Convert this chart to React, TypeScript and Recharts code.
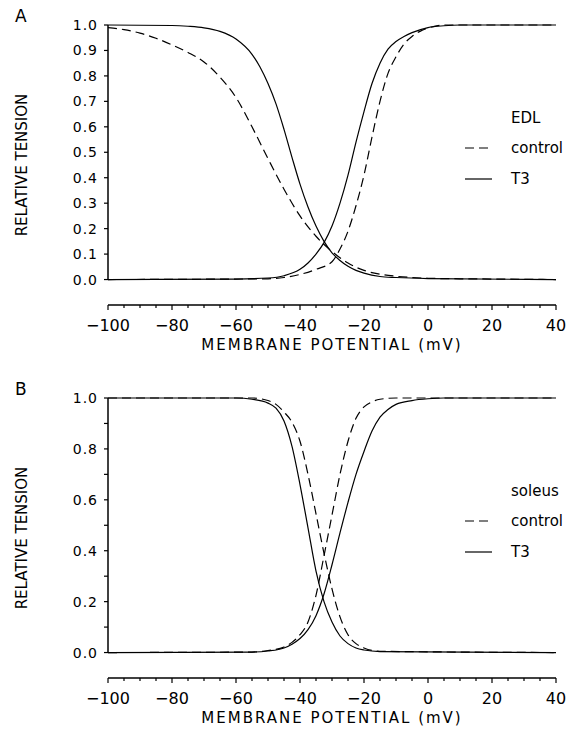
import React from "react"
import { LineChart, Line, XAxis, YAxis, ReferenceLine, Legend } from "recharts"

// membrane potential (mV) / relative tension

// A: EDL
const edlControlInactV = [-100, -95, -90, -85, -80, -75, -70, -65, -60, -55, -50, -45, -40, -35, -30, -25, -20, -15, -10, -5, 0, 10, 20, 40]
const edlControlInact = [0.99, 0.982, 0.968, 0.948, 0.922, 0.892, 0.855, 0.795, 0.715, 0.6, 0.475, 0.355, 0.25, 0.17, 0.11, 0.065, 0.036, 0.021, 0.013, 0.008, 0.005, 0.003, 0.002, 0]
const edlT3InactV = [-100, -80, -75, -70, -65, -60, -55, -52.5, -50, -47.5, -45, -42.5, -40, -37.5, -35, -32.5, -30, -27.5, -25, -22.5, -20, -15, -10, 0, 40]
const edlT3Inact = [1.0, 0.998, 0.995, 0.989, 0.975, 0.945, 0.885, 0.835, 0.77, 0.69, 0.59, 0.48, 0.375, 0.285, 0.21, 0.15, 0.105, 0.075, 0.052, 0.036, 0.025, 0.012, 0.008, 0.004, 0]
const edlT3ActV = [-100, -60, -50, -45, -40, -37.5, -35, -32.5, -30, -27.5, -25, -22.5, -20, -17.5, -15, -12.5, -10, -7.5, -5, 0, 5, 10, 40]
const edlT3Act = [0, 0.002, 0.006, 0.015, 0.04, 0.065, 0.1, 0.145, 0.21, 0.3, 0.41, 0.54, 0.66, 0.77, 0.85, 0.905, 0.935, 0.955, 0.97, 0.99, 0.997, 1.0, 1.0]
const edlControlActV = [-100, -50, -45, -40, -35, -30, -27.5, -25, -22.5, -20, -17.5, -15, -12.5, -10, -7.5, -5, -2.5, 0, 5, 40]
const edlControlAct = [0, 0.003, 0.008, 0.02, 0.04, 0.07, 0.12, 0.19, 0.29, 0.41, 0.56, 0.7, 0.81, 0.875, 0.925, 0.955, 0.975, 0.988, 1.0, 1.0]

// B: soleus
const solControlInactV = [-100, -55, -50, -47.5, -45, -42.5, -40, -37.5, -35, -32.5, -30, -27.5, -25, -22.5, -20, -15, 40]
const solControlInact = [1.0, 1.0, 0.99, 0.975, 0.945, 0.905, 0.83, 0.7, 0.545, 0.39, 0.25, 0.14, 0.07, 0.035, 0.018, 0.005, 0]
const solT3InactV = [-100, -60, -55, -50, -47.5, -45, -42.5, -40, -37.5, -35, -32.5, -30, -27.5, -25, -22.5, -20, -15, 40]
const solT3Inact = [1.0, 1.0, 0.995, 0.98, 0.96, 0.91, 0.81, 0.66, 0.49, 0.32, 0.2, 0.12, 0.065, 0.035, 0.018, 0.01, 0.004, 0]
const solControlActV = [-100, -55, -50, -45, -42.5, -40, -37.5, -35, -32.5, -30, -27.5, -25, -22.5, -20, -17.5, -15, -10, 40]
const solControlAct = [0, 0.002, 0.008, 0.022, 0.04, 0.07, 0.12, 0.225, 0.38, 0.54, 0.7, 0.83, 0.92, 0.965, 0.985, 0.995, 1.0, 1.0]
const solT3ActV = [-100, -55, -50, -45, -42.5, -40, -37.5, -35, -32.5, -30, -27.5, -25, -22.5, -20, -17.5, -15, -12.5, -10, -5, 0, 5, 40]
const solT3Act = [0, 0.002, 0.006, 0.018, 0.033, 0.055, 0.09, 0.145, 0.23, 0.345, 0.47, 0.59, 0.7, 0.79, 0.87, 0.925, 0.955, 0.975, 0.99, 0.997, 1.0, 1.0]

const xTicks = [-100, -95, -90, -85, -80, -75, -70, -65, -60, -55, -50, -45, -40, -35, -30, -25, -20, -15, -10, -5, 0, 5, 10, 15, 20, 25, 30, 35, 40]
const yTicks = [0, 0.1, 0.2, 0.3, 0.4, 0.5, 0.6, 0.7, 0.8, 0.9, 1.0]
const legendOrder = ["control", "T3"]

const FONT = "'DejaVu Sans', sans-serif"
const DASH = "9 5"

const pts = (v: number[], r: number[]) => v.map((x, i) => ({ v: x, r: r[i] }))

const XTick = (props: any) => {
  const { x, y, payload } = props
  const major = payload.value % 20 === 0
  return (
    <g>
      <line x1={x} x2={x} y1={y} y2={y + (major ? 5 : 3)} stroke="#000" strokeWidth={1.2} />
      {major && (
        <text x={x} y={y + 20} textAnchor="middle" dominantBaseline="central" fontSize={16} fontFamily={FONT} fill="#000">
          {String(payload.value).replace("-", "\u2212")}
        </text>
      )}
    </g>
  )
}

const YTick = (props: any) => {
  const { x, y, payload, everyOther } = props
  const showLabel = !everyOther || Math.round(payload.value * 10) % 2 === 0
  return (
    <g>
      <line x1={x - 4} x2={x} y1={y} y2={y} stroke="#000" strokeWidth={1.2} />
      {showLabel && (
        <text x={x - 10} y={y} textAnchor="end" dominantBaseline="central" fontSize={14} letterSpacing={1} fontFamily={FONT} fill="#000">
          {payload.value.toFixed(1)}
        </text>
      )}
    </g>
  )
}

const yTitle = (props: any) => {
  const vb = props.viewBox
  const cy = vb.y + vb.height / 2
  return (
    <text x={22} y={cy} transform={`rotate(-90 22 ${cy})`} textAnchor="middle" dominantBaseline="central" fontSize={15} fontFamily={FONT} fill="#000">
      RELATIVE TENSION
    </text>
  )
}

const xTitle = (props: any) => {
  const vb = props.viewBox
  return (
    <text x={vb.x + vb.width / 2} y={vb.y + 40} textAnchor="middle" dominantBaseline="central" fontSize={15} letterSpacing={2} fontFamily={FONT} fill="#000">
      MEMBRANE POTENTIAL (mV)
    </text>
  )
}

const legendFor = (title: string) => (props: any) => {
  const items = (props.payload || [])
    .filter((p: any) => p.type !== "none")
    .sort((a: any, b: any) => legendOrder.indexOf(a.value) - legendOrder.indexOf(b.value))
  return (
    <svg width={112} height={82} style={{ display: "block" }}>
      <text x={49} y={13} dominantBaseline="central" fontSize={15} fontFamily={FONT} fill="#000">
        {title}
      </text>
      {items.map((it: any, i: number) => (
        <g key={it.value}>
          <line
            x1={3}
            x2={30}
            y1={43 + i * 31}
            y2={43 + i * 31}
            stroke="#000"
            strokeWidth={1.2}
            strokeDasharray={it.payload?.strokeDasharray}
          />
          <text x={49} y={43 + i * 31} dominantBaseline="central" fontSize={15} fontFamily={FONT} fill="#000">
            {it.value}
          </text>
        </g>
      ))}
    </svg>
  )
}

type Curves = {
  controlInact: { v: number; r: number }[]
  t3Inact: { v: number; r: number }[]
  controlAct: { v: number; r: number }[]
  t3Act: { v: number; r: number }[]
}

function Panel({ top, letter, title, curves, everyOther }: { top: number; letter: string; title: string; curves: Curves; everyOther: boolean }) {
  return (
    <div style={{ position: "absolute", left: 0, top }}>
      <div style={{ position: "absolute", left: 15, top: 8, fontSize: 17, lineHeight: "17px", fontFamily: FONT, zIndex: 2 }}>{letter}</div>
      <LineChart width={574} height={355} margin={{ top: 25, right: 18, left: 0, bottom: 0 }}>
        <XAxis
          type="number"
          dataKey="v"
          domain={[-100, 40]}
          ticks={xTicks}
          interval={0}
          allowDataOverflow
          tick={<XTick />}
          tickLine={false}
          tickSize={0}
          tickMargin={0}
          axisLine={{ stroke: "#000", strokeWidth: 1.5 }}
          height={50}
          label={xTitle}
        />
        <YAxis
          type="number"
          domain={[-0.1, 1]}
          ticks={yTicks}
          interval={0}
          width={108}
          axisLine={false}
          tickLine={false}
          tickSize={0}
          tickMargin={0}
          tick={<YTick everyOther={everyOther} />}
          label={yTitle}
        />
        <ReferenceLine segment={[{ x: -100, y: 0 }, { x: -100, y: 1 }]} stroke="#000" strokeWidth={1.5} />
        <Line data={curves.controlInact} dataKey="r" name="control" type="monotone" stroke="#000" strokeWidth={1.2} strokeDasharray={DASH} dot={false} isAnimationActive={false} />
        <Line data={curves.t3Inact} dataKey="r" name="T3" type="monotone" stroke="#000" strokeWidth={1.2} dot={false} isAnimationActive={false} />
        <Line data={curves.controlAct} dataKey="r" name="control act" legendType="none" type="monotone" stroke="#000" strokeWidth={1.2} strokeDasharray={DASH} dot={false} isAnimationActive={false} />
        <Line data={curves.t3Act} dataKey="r" name="T3 act" legendType="none" type="monotone" stroke="#000" strokeWidth={1.2} dot={false} isAnimationActive={false} />
        <Legend layout="vertical" align="center" verticalAlign="middle" wrapperStyle={{ left: 462, top: 105, width: 112, height: 82 }} content={legendFor(title)} />
      </LineChart>
    </div>
  )
}

export default function App() {
  const edl: Curves = {
    controlInact: pts(edlControlInactV, edlControlInact),
    t3Inact: pts(edlT3InactV, edlT3Inact),
    controlAct: pts(edlControlActV, edlControlAct),
    t3Act: pts(edlT3ActV, edlT3Act),
  }
  const soleus: Curves = {
    controlInact: pts(solControlInactV, solControlInact),
    t3Inact: pts(solT3InactV, solT3Inact),
    controlAct: pts(solControlActV, solControlAct),
    t3Act: pts(solT3ActV, solT3Act),
  }
  return (
    <div style={{ position: "absolute", left: 0, top: 0, width: 574, height: 729, background: "#fff", fontFamily: FONT }}>
      <Panel top={0} letter="A" title="EDL" curves={edl} everyOther={false} />
      <Panel top={373} letter="B" title="soleus" curves={soleus} everyOther={true} />
    </div>
  )
}
